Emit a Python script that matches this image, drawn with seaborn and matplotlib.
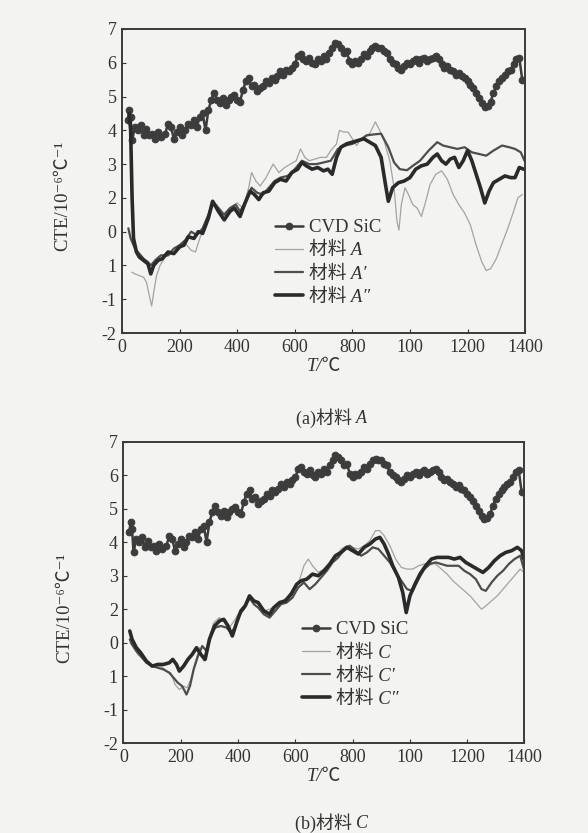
import matplotlib
matplotlib.use("Agg")
import matplotlib.pyplot as plt
import seaborn as sns
import pandas as pd

# ---------------- data ----------------
cvd_T = [20, 25, 30, 35, 45, 55, 65, 75, 85, 95, 105, 115, 125, 135, 150, 160, 170, 180, 190, 200,
         210, 220, 230, 240, 250, 260, 270, 280, 290, 300, 310, 320, 330, 340, 350, 360, 370, 380, 390, 400,
         410, 420, 430, 440, 450, 460, 470, 480, 490, 500, 510, 520, 530, 540, 550, 560, 570, 580, 590, 600,
         610, 620, 630, 640, 650, 660, 670, 680, 690, 700, 710, 720, 730, 740, 750, 760, 770, 780, 790, 800,
         810, 820, 830, 840, 850, 860, 870, 880, 890, 900, 910, 920, 930, 940, 950, 960, 970, 980, 990, 1000,
         1010, 1020, 1030, 1040, 1050, 1060, 1070, 1080, 1090, 1100, 1110, 1120, 1130, 1140, 1150, 1160, 1170,
         1180, 1190, 1200, 1210, 1220, 1230, 1240, 1250, 1260, 1270, 1280, 1290, 1300, 1310, 1320, 1330, 1340,
         1350, 1360, 1370, 1380, 1390]
cvd_v = [4.3, 4.6, 4.4, 3.7, 4.1, 4.0, 4.15, 3.85, 4.05, 3.85, 3.9, 3.75, 3.95, 3.8, 3.9, 4.2, 4.1, 3.75, 3.95, 4.1,
         3.85, 4.0, 4.2, 4.15, 4.3, 4.1, 4.4, 4.5, 4.0, 4.6, 4.9, 5.1, 4.9, 4.8, 4.95, 4.75, 4.9, 5.0, 5.05, 4.9,
         4.85, 5.2, 5.45, 5.55, 5.3, 5.35, 5.15, 5.25, 5.3, 5.45, 5.4, 5.55, 5.5, 5.6, 5.75, 5.65, 5.8, 5.75, 5.85, 5.95,
         6.2, 6.25, 6.1, 6.05, 6.15, 6.0, 5.95, 6.1, 6.05, 6.2, 6.1, 6.3, 6.45, 6.6, 6.55, 6.45, 6.3, 6.35, 6.05, 5.95,
         6.05, 6.0, 6.1, 6.25, 6.2, 6.35, 6.45, 6.5, 6.45, 6.45, 6.35, 6.3, 6.1, 6.0, 5.95, 5.85, 5.8, 5.9, 6.0, 5.95,
         6.05, 6.1, 6.0, 6.1, 6.15, 6.05, 6.1, 6.15, 6.2, 6.1, 5.95, 5.85, 5.9, 5.8, 5.75, 5.65, 5.7,
         5.6, 5.55, 5.45, 5.35, 5.25, 5.1, 4.95, 4.8, 4.7, 4.72, 4.85, 5.1, 5.3, 5.45, 5.55, 5.65, 5.75,
         5.8, 5.95, 6.1, 6.15, 5.5]

# panel (a)
a_T = [34, 45, 60, 75, 85, 95, 103, 110, 120, 132, 150, 175, 200, 220, 240, 255, 270, 290, 310, 330,
       350, 375, 400, 420, 440, 450, 465, 480, 500, 525, 545, 565, 585, 605, 620, 635, 650, 670, 690, 710,
       725, 745, 755, 770, 785, 800, 815, 830, 845, 860, 880, 895, 910, 930, 945, 955, 962, 970, 983, 995,
       1010, 1025, 1040, 1055, 1070, 1090, 1110, 1130, 1150, 1170, 1190, 1210, 1230, 1250, 1265, 1280, 1300,
       1320, 1340, 1360, 1375, 1390]
a_v = [-0.2, -0.25, -0.3, -0.35, -0.5, -0.9, -1.2, -0.8, -0.3, 0.0, 0.25, 0.35, 0.5, 0.65, 0.45, 0.4, 0.8, 1.2, 1.9, 1.8,
       1.5, 1.7, 1.85, 1.7, 2.3, 2.75, 2.5, 2.35, 2.6, 3.0, 2.75, 2.9, 3.0, 3.1, 3.45, 3.2, 3.1, 3.15, 3.2, 3.2,
       3.4, 3.6, 4.0, 3.95, 3.95, 3.75, 3.55, 3.75, 3.85, 3.9, 4.25, 4.0, 3.7, 3.1, 2.3, 1.3, 1.05, 1.8, 2.3, 2.1,
       1.8, 1.7, 1.45, 1.9, 2.4, 2.7, 2.8, 2.55, 2.1, 1.8, 1.55, 1.2, 0.6, 0.1, -0.15, -0.1, 0.2,
       0.65, 1.1, 1.6, 2.0, 2.1]

a1_T = [22, 30, 45, 60, 75, 90, 100, 115, 135, 160, 180, 200, 220, 240, 260, 280, 300, 315, 335, 355,
        375, 395, 410, 430, 450, 470, 490, 510, 530, 550, 575, 600, 625, 650, 675, 700, 725, 750, 775, 800,
        825, 850, 875, 900, 925, 945, 965, 990, 1010, 1035, 1065, 1095, 1115, 1140, 1165, 1190, 1215, 1240,
        1265, 1290, 1320, 1345, 1365, 1385, 1398]
a1_v = [1.1, 0.8, 0.5, 0.35, 0.2, 0.1, 0.0, 0.15, 0.3, 0.3, 0.5, 0.6, 0.75, 1.0, 0.9, 1.1, 1.5, 1.85, 1.7, 1.5,
        1.7, 1.8, 1.6, 1.9, 2.3, 2.15, 2.1, 2.3, 2.5, 2.6, 2.65, 2.85, 3.1, 3.0, 3.0, 3.05, 3.1, 3.45, 3.55, 3.6,
        3.7, 3.85, 3.88, 3.9, 3.5, 3.05, 2.85, 2.82, 2.95, 3.1, 3.4, 3.65, 3.55, 3.5, 3.45, 3.5, 3.35, 3.3,
        3.25, 3.4, 3.55, 3.5, 3.45, 3.35, 3.1]

a2_T = [25, 30, 35, 40, 50, 60, 75, 90, 100, 110, 125, 140, 160, 180, 200, 215, 230, 250, 265, 280,
        300, 315, 335, 355, 375, 390, 410, 425, 445, 460, 475, 490, 510, 530, 550, 570, 590, 610, 625, 640,
        660, 680, 700, 715, 730, 745, 760, 780, 800, 820, 840, 860, 880, 900, 915, 925, 940, 960, 980, 1000,
        1020, 1040, 1060, 1080, 1095, 1110, 1125, 1140, 1155, 1170, 1185, 1200, 1215, 1230, 1245, 1260, 1275,
        1290, 1310, 1330, 1350, 1365, 1380, 1395]
a2_v = [4.5, 4.0, 2.0, 0.8, 0.4, 0.25, 0.15, 0.05, -0.25, 0.0, 0.15, 0.2, 0.4, 0.35, 0.55, 0.6, 0.85, 0.8, 1.0, 0.95,
        1.4, 1.9, 1.6, 1.35, 1.6, 1.7, 1.45, 1.8, 2.2, 2.1, 1.95, 2.15, 2.2, 2.45, 2.55, 2.5, 2.75, 2.85, 3.05, 2.95,
        2.85, 2.9, 2.8, 2.85, 2.7, 3.2, 3.5, 3.6, 3.65, 3.7, 3.75, 3.65, 3.55, 3.2, 2.4, 1.9, 2.3, 2.45, 2.5, 2.6,
        2.85, 2.95, 3.0, 3.2, 3.3, 3.1, 3.0, 3.15, 3.2, 2.9, 3.1, 3.4, 3.1, 2.7, 2.3, 1.85, 2.2,
        2.45, 2.55, 2.65, 2.6, 2.6, 2.9, 2.85]

# panel (b)
c_T = [22, 35, 50, 70, 90, 110, 130, 150, 165, 180, 195, 210, 222, 235, 250, 265, 280, 295, 315, 335,
       355, 370, 390, 410, 430, 450, 470, 490, 510, 530, 550, 570, 590, 610, 630, 645, 660, 680, 700, 720,
       740, 760, 780, 800, 820, 840, 860, 880, 895, 910, 930, 950, 970, 990, 1010, 1030, 1050, 1070, 1090,
       1110, 1130, 1150, 1170, 1190, 1210, 1230, 1250, 1265, 1285, 1305, 1325, 1345, 1365, 1385, 1398]
c_v = [1.0, 0.85, 0.65, 0.5, 0.35, 0.3, 0.3, 0.15, 0.1, -0.25, -0.4, -0.3, -0.35, -0.1, 0.4, 0.85, 0.45, 1.0, 1.6, 1.75,
       1.6, 1.45, 1.7, 2.0, 2.2, 2.3, 2.15, 1.95, 2.0, 2.1, 2.2, 2.35, 2.55, 2.75, 3.3, 3.5, 3.3, 3.1, 3.2, 3.35,
       3.55, 3.8, 3.9, 3.85, 3.8, 3.9, 4.05, 4.35, 4.35, 4.2, 3.9, 3.5, 3.25, 3.2, 3.2, 3.3, 3.35, 3.4, 3.35,
       3.2, 3.05, 2.85, 2.7, 2.55, 2.4, 2.2, 2.0, 2.1, 2.25, 2.4, 2.6, 2.8, 3.0, 3.2, 3.1]

c1_T = [22, 30, 45, 60, 80, 100, 120, 140, 160, 175, 190, 205, 220, 232, 245, 260, 275, 290, 305, 320,
        340, 360, 375, 390, 405, 420, 440, 455, 470, 490, 510, 530, 550, 570, 590, 610, 630, 650, 670, 690,
        710, 730, 750, 770, 790, 810, 830, 850, 870, 890, 910, 930, 950, 970, 990, 1010, 1030, 1050, 1070,
        1090, 1110, 1130, 1150, 1170, 1190, 1210, 1230, 1250, 1265, 1285, 1305, 1325, 1345, 1365, 1385, 1398]
c1_v = [1.1, 0.95, 0.75, 0.6, 0.4, 0.3, 0.25, 0.2, 0.1, -0.05, -0.2, -0.3, -0.55, -0.3, 0.2, 0.6, 0.9, 0.75, 1.2, 1.45,
        1.5, 1.45, 1.3, 1.45, 1.85, 2.0, 2.35, 2.15, 2.05, 1.85, 1.75, 1.95, 2.15, 2.2, 2.35, 2.65, 2.8, 2.6, 2.75, 2.95,
        3.15, 3.4, 3.55, 3.8, 3.9, 3.75, 3.6, 3.7, 3.85, 3.8, 3.6, 3.4, 3.1, 2.85, 2.6, 2.55, 2.9, 3.2, 3.35,
        3.4, 3.35, 3.3, 3.3, 3.3, 3.15, 3.05, 2.9, 2.6, 2.55, 2.8, 3.0, 3.15, 3.35, 3.5, 3.6, 3.2]

c2_T = [22, 30, 45, 60, 80, 100, 120, 140, 160, 172, 185, 195, 210, 225, 240, 255, 270, 285, 300, 318,
        335, 350, 365, 380, 395, 410, 425, 440, 455, 470, 490, 510, 525, 545, 565, 585, 605, 620, 640, 660,
        680, 700, 720, 740, 760, 780, 800, 820, 840, 860, 880, 895, 910, 925, 940, 960, 975, 987, 1000, 1015,
        1035, 1055, 1075, 1095, 1115, 1135, 1155, 1175, 1195, 1215, 1235, 1255, 1275, 1295, 1315, 1335, 1355,
        1375, 1390, 1398]
c2_v = [1.35, 1.1, 0.85, 0.7, 0.45, 0.3, 0.35, 0.35, 0.4, 0.5, 0.35, 0.15, 0.3, 0.5, 0.65, 0.85, 0.65, 0.5, 1.1, 1.5,
        1.65, 1.7, 1.5, 1.2, 1.6, 1.95, 2.1, 2.4, 2.25, 2.2, 1.95, 1.85, 2.05, 2.2, 2.25, 2.45, 2.75, 2.85, 2.9, 3.05,
        3.0, 3.15, 3.35, 3.6, 3.7, 3.85, 3.75, 3.65, 3.85, 3.95, 4.1, 4.15, 3.95, 3.65, 3.3, 2.95, 2.5, 1.9, 2.4, 2.7,
        3.05, 3.3, 3.5, 3.55, 3.55, 3.55, 3.5, 3.55, 3.4, 3.3, 3.2, 3.1, 3.25, 3.45, 3.6, 3.7, 3.75,
        3.85, 3.75, 3.5]

x_ticks = [0, 200, 400, 600, 800, 1000, 1200, 1400]
x_ticklabels = ["0", "200", "400", "600", "800", "100", "1200", "1400"]
y_ticks = [7, 6, 5, 4, 3, 2, 1, 0, -1, -2]
y_ticklabels = ["7", "6", "5", "4", "3", "2", "0", "1", "-1", "-2"]

labels_a = ["CVD SiC", "材料 A", "材料 A′", "材料 A″"]
labels_c = ["CVD SiC", "材料 C", "材料 C′", "材料 C″"]

# ---------------- style ----------------
sns.set_style("ticks")
BG = "#f3f3f1"
plt.rcParams["font.family"] = ["Liberation Serif", "Noto Sans CJK SC", "DejaVu Sans"]
plt.rcParams["axes.unicode_minus"] = False

fig = plt.figure(figsize=(5.88, 8.33), dpi=100, facecolor=BG)
ax_a = fig.add_axes([0.2075, 0.6002, 0.6855, 0.3650])
ax_b = fig.add_axes([0.2100, 0.1080, 0.6820, 0.3614])

styles = [
    dict(color="#3c3c3c", lw=1.8, marker="o", ms=4.8, mec="#3c3c3c", mfc="#3c3c3c"),
    dict(color="#a3a3a3", lw=0.9),
    dict(color="#4d4d4d", lw=1.6),
    dict(color="#2a2a2a", lw=2.6),
]


def draw(ax, series, labels, leg_xy):
    ax.set_facecolor(BG)
    for (T, v), lab, st in zip(series, labels, styles):
        df = pd.DataFrame({"T": T, "CTE": v})
        sns.lineplot(data=df, x="T", y="CTE", ax=ax, label=lab, sort=False,
                     estimator=None, **st)
    ax.set_xlim(0, 1400)
    ax.set_ylim(-2, 7)
    ax.set_xticks(x_ticks)
    ax.set_xticklabels(x_ticklabels)
    ax.set_yticks(y_ticks)
    ax.set_yticklabels(y_ticklabels)
    ax.tick_params(direction="in", length=3, width=0.8, labelsize=13,
                   colors="#333333", pad=4)
    for s in ax.spines.values():
        s.set_color("#3a3a3a")
        s.set_linewidth(1.4)
    ax.set_xlabel("T/℃", fontsize=13.5, style="italic", color="#333333", labelpad=2)
    ax.set_ylabel("CTE/10⁻⁶℃⁻¹", fontsize=13.5, color="#333333")
    ax.yaxis.set_label_coords(-0.125, 0.45)
    leg = ax.legend(loc="upper left", bbox_to_anchor=leg_xy, frameon=False,
                    fontsize=13.5, handlelength=1.5, handletextpad=0.3,
                    labelspacing=0.32, borderpad=0, borderaxespad=0)
    for i, t in enumerate(leg.get_texts()):
        t.set_color("#333333")
        if i > 0:
            t.set_style("italic")


draw(ax_a, [(cvd_T, cvd_v), (a_T, a_v), (a1_T, a1_v), (a2_T, a2_v)], labels_a, (0.38, 0.375))
draw(ax_b, [(cvd_T, cvd_v), (c_T, c_v), (c1_T, c1_v), (c2_T, c2_v)], labels_c, (0.445, 0.405))

# captions
fig.text(0.606, 0.498, "(a)材料 ", ha="right", va="center", fontsize=13, color="#333333")
fig.text(0.606, 0.498, "A", ha="left", va="center", fontsize=13, style="italic", color="#333333")
fig.text(0.606, 0.012, "(b)材料 ", ha="right", va="center", fontsize=13, color="#333333")
fig.text(0.606, 0.012, "C", ha="left", va="center", fontsize=13, style="italic", color="#333333")

fig.savefig("out.png", dpi=100, facecolor=BG)
